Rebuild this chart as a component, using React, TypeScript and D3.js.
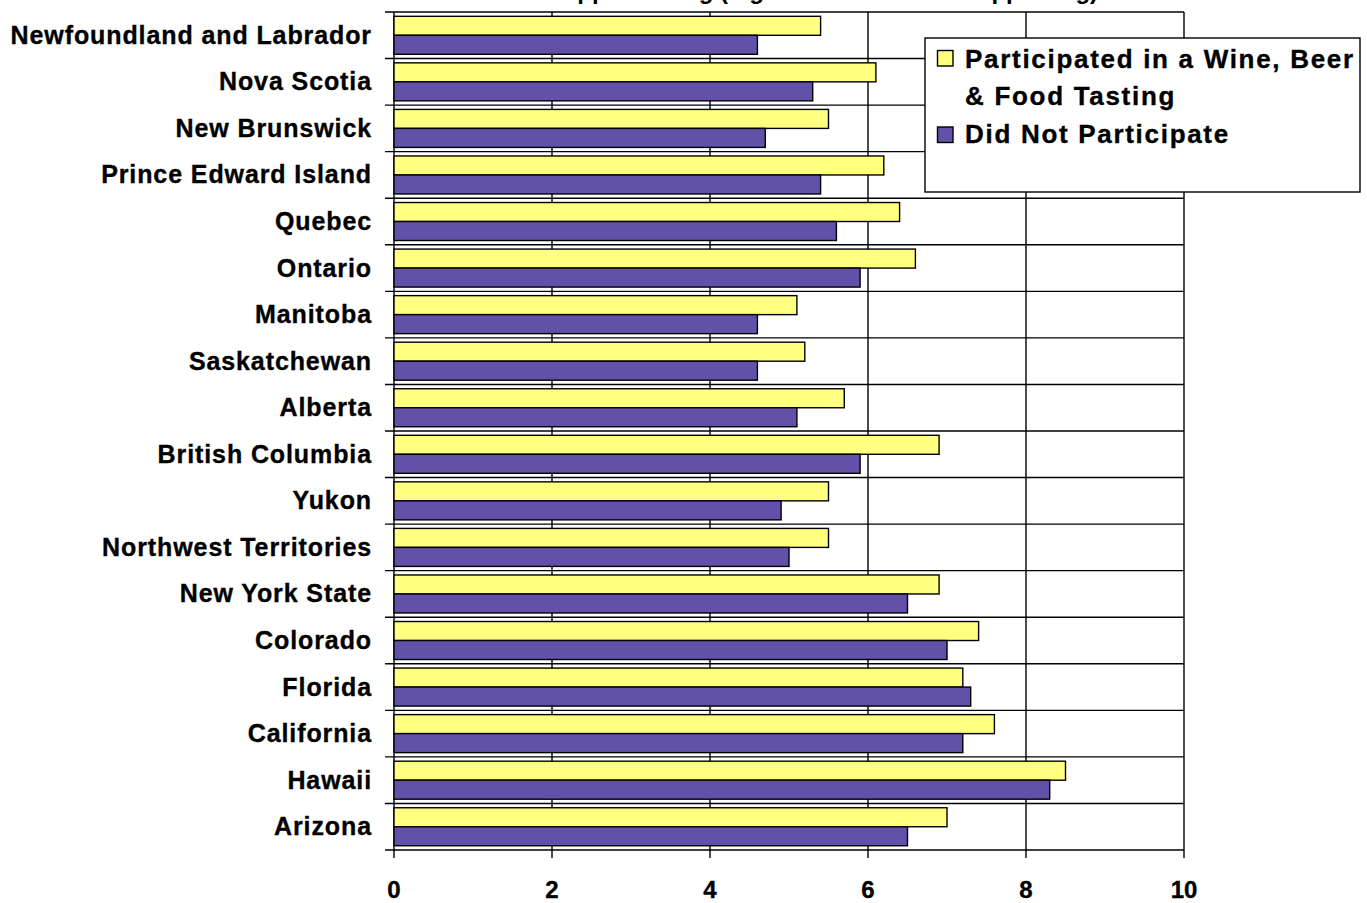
import React from "react";
import * as d3 from "d3";

const categories = [
  "Newfoundland and Labrador",
  "Nova Scotia",
  "New Brunswick",
  "Prince Edward Island",
  "Quebec",
  "Ontario",
  "Manitoba",
  "Saskatchewan",
  "Alberta",
  "British Columbia",
  "Yukon",
  "Northwest Territories",
  "New York State",
  "Colorado",
  "Florida",
  "California",
  "Hawaii",
  "Arizona",
];

const participated = [5.4, 6.1, 5.5, 6.2, 6.4, 6.6, 5.1, 5.2, 5.7, 6.9, 5.5, 5.5, 6.9, 7.4, 7.2, 7.6, 8.5, 7.0];
const notParticipated = [4.6, 5.3, 4.7, 5.4, 5.6, 5.9, 4.6, 4.6, 5.1, 5.9, 4.9, 5.0, 6.5, 7.0, 7.3, 7.2, 8.3, 6.5];

const xTicks = [0, 2, 4, 6, 8, 10];
const legendLines = ["Participated in a Wine, Beer", "& Food Tasting", "Did Not Participate"];
const seriesKeys = ["p", "n"];
const titleText = "Mean appeal rating (higher scores = more appealing)";

const YELLOW = "#FFFF80";
const PURPLE = "#6350A8";
const FONT = "'Liberation Sans', Arial, Helvetica, sans-serif";

export default function App() {
  const W = 1367;
  const H = 903;
  const x = d3.scaleLinear().domain([0, 10]).range([394, 1184]);
  const y = d3.scaleBand<string>().domain(categories).range([12, 850]).padding(0);
  const step = y.step();
  const inner = d3.scaleBand<string>().domain(seriesKeys).range([4.3, 42.3]).padding(0);
  const sw = 1.4;

  return (
    <svg
      width={W}
      height={H}
      style={{ position: "absolute", left: 0, top: 0, background: "#fff" }}
      fontFamily={FONT}
    >
      {/* title, clipped at the top edge as in the reference */}
      <text x={797} y={-1} textAnchor="middle" fontSize={24} fontWeight="bold" fill="#000">
        {titleText}
      </text>

      {/* vertical gridlines */}
      {xTicks.slice(1).map((t) => (
        <line key={"vg" + t} x1={x(t)} x2={x(t)} y1={12} y2={858} stroke="#000" strokeWidth={sw} />
      ))}
      {/* horizontal gridlines at category boundaries */}
      {categories.map((c) => (
        <line key={"hg" + c} x1={385} x2={x(10)} y1={y(c)!} y2={y(c)!} stroke="#000" strokeWidth={sw} />
      ))}
      <line x1={385} x2={x(10)} y1={850} y2={850} stroke="#000" strokeWidth={sw} />
      {/* left axis */}
      <line x1={x(0)} x2={x(0)} y1={12} y2={858} stroke="#000" strokeWidth={sw} />

      {/* bars */}
      {categories.map((c, i) => (
        <g key={"b" + c}>
          <rect
            x={x(0)}
            y={y(c)! + inner("p")!}
            width={x(participated[i]) - x(0)}
            height={inner.bandwidth()}
            fill={YELLOW}
            stroke="#000"
            strokeWidth={sw}
          />
          <rect
            x={x(0)}
            y={y(c)! + inner("n")!}
            width={x(notParticipated[i]) - x(0)}
            height={inner.bandwidth()}
            fill={PURPLE}
            stroke="#000"
            strokeWidth={sw}
          />
        </g>
      ))}

      {/* category labels */}
      {categories.map((c) => (
        <text
          key={"l" + c}
          x={372}
          y={y(c)! + step / 2 + 8.5}
          textAnchor="end"
          fontSize={25}
          fontWeight="bold"
          letterSpacing={0.9}
          fill="#000"
          stroke="#000"
          strokeWidth={0.35}
        >
          {c}
        </text>
      ))}

      {/* x tick labels */}
      {xTicks.map((t) => (
        <text
          key={"xt" + t}
          x={x(t)}
          y={898}
          textAnchor="middle"
          fontSize={24}
          fontWeight="bold"
          fill="#000"
          stroke="#000"
          strokeWidth={0.35}
        >
          {t}
        </text>
      ))}

      {/* legend */}
      <g>
        <rect x={925} y={38} width={435} height={154} fill="#fff" stroke="#000" strokeWidth={sw} />
        <rect x={937.5} y={50.5} width={15.5} height={15.5} fill={YELLOW} stroke="#000" strokeWidth={sw} />
        <rect x={937.5} y={127} width={15.5} height={15.5} fill={PURPLE} stroke="#000" strokeWidth={sw} />
        {legendLines.map((s, i) => (
          <text
            key={"lg" + i}
            x={965}
            y={[68, 105, 143][i]}
            fontSize={26}
            fontWeight="bold"
            letterSpacing={1.7}
            fill="#000"
            stroke="#000"
            strokeWidth={0.35}
          >
            {s}
          </text>
        ))}
      </g>
    </svg>
  );
}
